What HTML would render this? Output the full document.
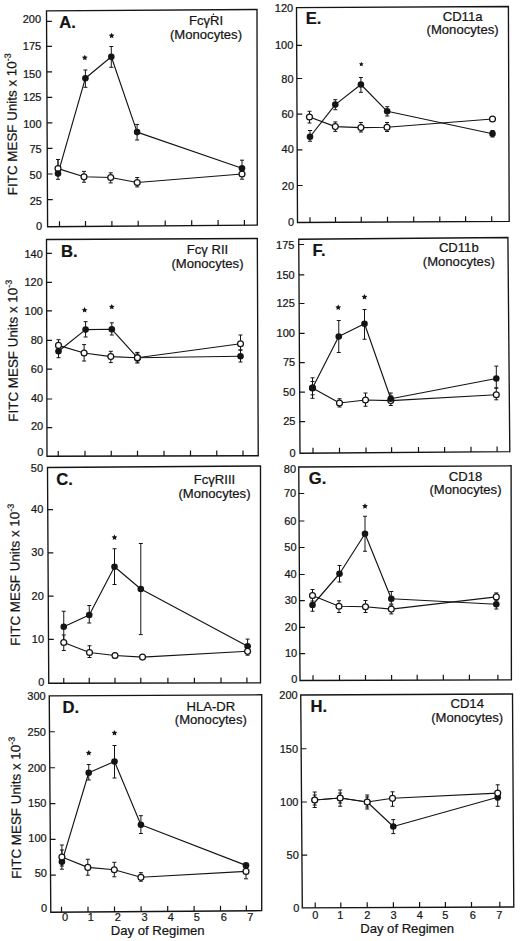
<!DOCTYPE html>
<html><head><meta charset="utf-8"><title>Figure</title>
<style>
html,body{margin:0;padding:0;background:#fff;}
body{width:520px;height:941px;overflow:hidden;}
svg{display:block;}
text{font-family:"Liberation Sans", sans-serif;fill:#141414;stroke:#141414;stroke-width:0.22px;}
.t{font-size:11px;}
.m{font-size:13.1px;}
.y{font-size:13.4px;}
.L{font-size:16.6px;font-weight:bold;}
.sup{font-size:9px;}
</style></head><body>
<svg width="520" height="941" viewBox="0 0 520 941">
<rect width="520" height="941" fill="#fff"/>
<g><polygon points="46.5,10.8 257,9.5 257.3,225.1 47.6,226.7" fill="none" stroke="#141414" stroke-width="1.35"/>
<path d="M46.55 21.4h5.3M46.68 46.3h5.3M46.81 71.8h5.3M46.94 97.4h5.3M47.07 122.8h5.3M47.2 148.3h5.3M47.33 174h5.3M47.46 199.7h5.3M59.5 226.61V221.31M85.5 226.41V221.11M111.9 226.21V220.91M138.2 226.01V220.71M165.2 225.8V220.5M191.7 225.6V220.3M218.1 225.4V220.1M244.4 225.2V219.9" stroke="#141414" stroke-width="1.2" fill="none"/>
<text x="41" y="22.8" text-anchor="end" class="t">200</text>
<text x="41.13" y="50.4" text-anchor="end" class="t">175</text>
<text x="41.26" y="78" text-anchor="end" class="t">150</text>
<text x="41.39" y="101.4" text-anchor="end" class="t">125</text>
<text x="41.52" y="128.4" text-anchor="end" class="t">100</text>
<text x="41.65" y="153.4" text-anchor="end" class="t">75</text>
<text x="41.78" y="179" text-anchor="end" class="t">50</text>
<text x="41.91" y="205.2" text-anchor="end" class="t">25</text>
<text x="42.04" y="229.9" text-anchor="end" class="t">0</text>
<text transform="translate(16.7 124.2) rotate(-90.4)" text-anchor="middle" class="y">FITC MESF Units x 10<tspan class="sup" dy="-5.5">-3</tspan></text>
<text x="59.3" y="27.9" class="L">A.</text>
<text x="206" y="25.4" text-anchor="middle" class="m">FcγRI</text>
<text x="206" y="39.2" text-anchor="middle" class="m">(Monocytes)</text>
<polyline points="58,173.6 85.4,78.2 111.3,56.8 137.1,132.1 242,168.2" fill="none" stroke="#141414" stroke-width="1.15" stroke-linejoin="round"/>
<polyline points="58,168.6 84,176.8 110.7,177.5 137.2,182.5 242,174" fill="none" stroke="#141414" stroke-width="1.15" stroke-linejoin="round"/>
<path d="M58 159.5V179.3M56 159.5h4M56 179.3h4M85.4 70V87.3M83.4 70h4M83.4 87.3h4M111.3 46.5V67.3M109.3 46.5h4M109.3 67.3h4M137.1 124.4V140M135.1 124.4h4M135.1 140h4M242 160.2V172M240 160.2h4M240 172h4M58 159.5V172M56 159.5h4M56 172h4M84 171.4V182.2M82 171.4h4M82 182.2h4M110.7 172.8V182.9M108.7 172.8h4M108.7 182.9h4M137.2 177.5V186.9M135.2 177.5h4M135.2 186.9h4M242 170V179.2M240 170h4M240 179.2h4" stroke="#141414" stroke-width="1.0" fill="none"/>
<circle cx="58" cy="168.6" r="2.95" fill="#fff" stroke="#141414" stroke-width="1.25"/>
<circle cx="84" cy="176.8" r="2.95" fill="#fff" stroke="#141414" stroke-width="1.25"/>
<circle cx="110.7" cy="177.5" r="2.95" fill="#fff" stroke="#141414" stroke-width="1.25"/>
<circle cx="137.2" cy="182.5" r="2.95" fill="#fff" stroke="#141414" stroke-width="1.25"/>
<circle cx="242" cy="174" r="2.95" fill="#fff" stroke="#141414" stroke-width="1.25"/>
<circle cx="58" cy="173.6" r="3.3" fill="#141414"/>
<circle cx="85.4" cy="78.2" r="3.3" fill="#141414"/>
<circle cx="111.3" cy="56.8" r="3.3" fill="#141414"/>
<circle cx="137.1" cy="132.1" r="3.3" fill="#141414"/>
<circle cx="242" cy="168.2" r="3.3" fill="#141414"/>
<circle cx="213.4" cy="14.2" r="0.8" fill="#141414"/>
<polygon points="84.8,54.8 85.68,56.59 87.65,56.87 86.23,58.26 86.56,60.23 84.8,59.3 83.04,60.23 83.37,58.26 81.95,56.87 83.92,56.59" fill="#141414"/>
<polygon points="111.6,32.8 112.48,34.59 114.45,34.87 113.03,36.26 113.36,38.23 111.6,37.3 109.84,38.23 110.17,36.26 108.75,34.87 110.72,34.59" fill="#141414"/></g>
<g><polygon points="46.5,239.5 257.3,238.5 258.25,455.75 47,456.25" fill="none" stroke="#141414" stroke-width="1.35"/>
<path d="M46.53 253.3h5.3M46.6 282.4h5.3M46.66 310.9h5.3M46.73 340.3h5.3M46.8 369.2h5.3M46.87 399h5.3M46.93 427.6h5.3M58.25 456.22V450.92M85 456.16V450.86M111.25 456.1V450.8M137.5 456.04V450.74M164 455.97V450.67M190.5 455.91V450.61M216.75 455.85V450.55M243 455.79V450.49" stroke="#141414" stroke-width="1.2" fill="none"/>
<text x="42.8" y="257.65" text-anchor="end" class="t">140</text>
<text x="42.87" y="286.3" text-anchor="end" class="t">120</text>
<text x="42.93" y="314.7" text-anchor="end" class="t">100</text>
<text x="43" y="344.4" text-anchor="end" class="t">80</text>
<text x="43.07" y="372.6" text-anchor="end" class="t">60</text>
<text x="43.14" y="401.6" text-anchor="end" class="t">40</text>
<text x="43.2" y="429.9" text-anchor="end" class="t">20</text>
<text x="43.27" y="456.2" text-anchor="end" class="t">0</text>
<text transform="translate(17.6 350.7) rotate(-90.4)" text-anchor="middle" class="y">FITC MESF Units x 10<tspan class="sup" dy="-5.5">-3</tspan></text>
<text x="61" y="256.5" class="L">B.</text>
<text x="207.5" y="253.7" text-anchor="middle" class="m">Fcγ RII</text>
<text x="207.5" y="267.5" text-anchor="middle" class="m">(Monocytes)</text>
<polyline points="58.5,351.3 85.6,329.6 111.8,329.3 137.4,357.7 240.5,356.25" fill="none" stroke="#141414" stroke-width="1.15" stroke-linejoin="round"/>
<polyline points="58.5,345.4 84.1,353 110.8,356.6 137.4,357.7 240.5,343.75" fill="none" stroke="#141414" stroke-width="1.15" stroke-linejoin="round"/>
<path d="M58.5 345V357.7M56.5 345h4M56.5 357.7h4M85.6 321.7V337M83.6 321.7h4M83.6 337h4M111.8 322.8V335M109.8 322.8h4M109.8 335h4M137.4 353V362M135.4 353h4M135.4 362h4M240.5 350V362M238.5 350h4M238.5 362h4M58.5 339.7V351M56.5 339.7h4M56.5 351h4M84.1 344.6V361M82.1 344.6h4M82.1 361h4M110.8 351.3V362.6M108.8 351.3h4M108.8 362.6h4M137.4 352.4V363M135.4 352.4h4M135.4 363h4M240.5 335V350M238.5 335h4M238.5 350h4" stroke="#141414" stroke-width="1.0" fill="none"/>
<circle cx="58.5" cy="345.4" r="2.95" fill="#fff" stroke="#141414" stroke-width="1.25"/>
<circle cx="84.1" cy="353" r="2.95" fill="#fff" stroke="#141414" stroke-width="1.25"/>
<circle cx="110.8" cy="356.6" r="2.95" fill="#fff" stroke="#141414" stroke-width="1.25"/>
<circle cx="137.4" cy="357.7" r="2.95" fill="#fff" stroke="#141414" stroke-width="1.25"/>
<circle cx="240.5" cy="343.75" r="2.95" fill="#fff" stroke="#141414" stroke-width="1.25"/>
<circle cx="58.5" cy="351.3" r="3.3" fill="#141414"/>
<circle cx="85.6" cy="329.6" r="3.3" fill="#141414"/>
<circle cx="111.8" cy="329.3" r="3.3" fill="#141414"/>
<circle cx="137.4" cy="357.7" r="3.3" fill="#141414"/>
<circle cx="240.5" cy="356.25" r="3.3" fill="#141414"/>
<circle cx="137.4" cy="357.7" r="2.95" fill="#fff" stroke="#141414" stroke-width="1.25"/>
<polygon points="84.6,307.1 85.48,308.89 87.45,309.17 86.03,310.56 86.36,312.53 84.6,311.6 82.84,312.53 83.17,310.56 81.75,309.17 83.72,308.89" fill="#141414"/>
<polygon points="111.8,303.9 112.68,305.69 114.65,305.97 113.23,307.36 113.56,309.33 111.8,308.4 110.04,309.33 110.37,307.36 108.95,305.97 110.92,305.69" fill="#141414"/></g>
<g><polygon points="47.5,467.5 260.5,466 260.5,682.8 48.75,683.25" fill="none" stroke="#141414" stroke-width="1.35"/>
<path d="M47.74 509.6h5.3M47.99 552.8h5.3M48.25 596.2h5.3M48.5 639.4h5.3M63.75 683.22V677.92M89.25 683.16V677.86M115 683.11V677.81M140.8 683.05V677.75M167.9 683V677.7M194.4 682.94V677.64M221 682.88V677.58M246.9 682.83V677.53" stroke="#141414" stroke-width="1.2" fill="none"/>
<text x="43.1" y="472.3" text-anchor="end" class="t">50</text>
<text x="43.34" y="512.7" text-anchor="end" class="t">40</text>
<text x="43.59" y="555.9" text-anchor="end" class="t">30</text>
<text x="43.85" y="599.5" text-anchor="end" class="t">20</text>
<text x="44.1" y="642.6" text-anchor="end" class="t">10</text>
<text x="44.35" y="686.3" text-anchor="end" class="t">0</text>
<text transform="translate(19.6 574.7) rotate(-90.4)" text-anchor="middle" class="y">FITC MESF Units x 10<tspan class="sup" dy="-5.5">-3</tspan></text>
<text x="56.2" y="484.6" class="L">C.</text>
<text x="214.5" y="484" text-anchor="middle" class="m">FcγRIII</text>
<text x="214.5" y="497.5" text-anchor="middle" class="m">(Monocytes)</text>
<polyline points="63.75,626.75 89.25,615 114.5,566.75 140.8,589 247.6,646.3" fill="none" stroke="#141414" stroke-width="1.15" stroke-linejoin="round"/>
<polyline points="63.75,642.5 89.5,652.5 115,655.5 142.5,657.1 247.6,651.3" fill="none" stroke="#141414" stroke-width="1.15" stroke-linejoin="round"/>
<path d="M63.75 611.25V642M61.75 611.25h4M61.75 642h4M89.25 605.5V623M87.25 605.5h4M87.25 623h4M114.5 548.75V584.5M112.5 548.75h4M112.5 584.5h4M140.8 543.5V634.6M138.8 543.5h4M138.8 634.6h4M247.6 639.1V646.3M245.6 639.1h4M245.6 646.3h4M63.75 635V650.5M61.75 635h4M61.75 650.5h4M89.5 645.75V657.5M87.5 645.75h4M87.5 657.5h4M115 653V658M113 653h4M113 658h4M142.5 655V659M140.5 655h4M140.5 659h4M247.6 651.3V655.2M245.6 651.3h4M245.6 655.2h4" stroke="#141414" stroke-width="1.0" fill="none"/>
<circle cx="63.75" cy="626.75" r="3.3" fill="#141414"/>
<circle cx="89.25" cy="615" r="3.3" fill="#141414"/>
<circle cx="114.5" cy="566.75" r="3.3" fill="#141414"/>
<circle cx="140.8" cy="589" r="3.3" fill="#141414"/>
<circle cx="247.6" cy="646.3" r="3.3" fill="#141414"/>
<circle cx="63.75" cy="642.5" r="2.95" fill="#fff" stroke="#141414" stroke-width="1.25"/>
<circle cx="89.5" cy="652.5" r="2.95" fill="#fff" stroke="#141414" stroke-width="1.25"/>
<circle cx="115" cy="655.5" r="2.95" fill="#fff" stroke="#141414" stroke-width="1.25"/>
<circle cx="142.5" cy="657.1" r="2.95" fill="#fff" stroke="#141414" stroke-width="1.25"/>
<circle cx="247.6" cy="651.3" r="2.95" fill="#fff" stroke="#141414" stroke-width="1.25"/>
<polygon points="114.5,534.5 115.38,536.29 117.35,536.57 115.93,537.96 116.26,539.93 114.5,539 112.74,539.93 113.07,537.96 111.65,536.57 113.62,536.29" fill="#141414"/></g>
<g><polygon points="49.25,695.8 261.7,694.8 261.7,910.7 50.8,912.2" fill="none" stroke="#141414" stroke-width="1.35"/>
<path d="M49.51 731.75h5.3M49.77 767.75h5.3M50.02 803.6h5.3M50.28 839.3h5.3M50.53 875.2h5.3M61.5 912.12V906.82M88 911.94V906.64M114.5 911.75V906.45M141.1 911.56V906.26M167.7 911.37V906.07M194.1 911.18V905.88M220.5 910.99V905.69M246.3 910.81V905.51" stroke="#141414" stroke-width="1.2" fill="none"/>
<text x="45.7" y="700.4" text-anchor="end" class="t">300</text>
<text x="45.96" y="736.3" text-anchor="end" class="t">250</text>
<text x="46.22" y="771.9" text-anchor="end" class="t">200</text>
<text x="46.47" y="807" text-anchor="end" class="t">150</text>
<text x="46.73" y="842.1" text-anchor="end" class="t">100</text>
<text x="46.98" y="877.2" text-anchor="end" class="t">50</text>
<text x="47.24" y="912.3" text-anchor="end" class="t">0</text>
<text x="65" y="921" text-anchor="middle" class="t">0</text>
<text x="90.75" y="921" text-anchor="middle" class="t">1</text>
<text x="117.75" y="921" text-anchor="middle" class="t">2</text>
<text x="144.6" y="921" text-anchor="middle" class="t">3</text>
<text x="170.9" y="921" text-anchor="middle" class="t">4</text>
<text x="196.8" y="921" text-anchor="middle" class="t">5</text>
<text x="223.7" y="921" text-anchor="middle" class="t">6</text>
<text x="250.4" y="921" text-anchor="middle" class="t">7</text>
<text x="110.75" y="934.5" class="m">Day of Regimen</text>
<text transform="translate(20.7 807.7) rotate(-90.4)" text-anchor="middle" class="y">FITC MESF Units x 10<tspan class="sup" dy="-5.5">-3</tspan></text>
<text x="62.5" y="713.4" class="L">D.</text>
<text x="210.8" y="710.7" text-anchor="middle" class="m">HLA-DR</text>
<text x="210.8" y="724.2" text-anchor="middle" class="m">(Monocytes)</text>
<polyline points="61.9,861.8 88.75,772.75 114.5,761.5 140.9,824.7 246,865.4" fill="none" stroke="#141414" stroke-width="1.15" stroke-linejoin="round"/>
<polyline points="61.9,857 87.8,867.4 114.3,869.7 140.9,877.3 246,871.4" fill="none" stroke="#141414" stroke-width="1.15" stroke-linejoin="round"/>
<path d="M61.9 850V869.2M59.9 850h4M59.9 869.2h4M88.75 764.5V780M86.75 764.5h4M86.75 780h4M114.5 745.5V778M112.5 745.5h4M112.5 778h4M140.9 815.7V833.5M138.9 815.7h4M138.9 833.5h4M61.9 845V866M59.9 845h4M59.9 866h4M87.8 859.3V875.2M85.8 859.3h4M85.8 875.2h4M114.3 862.3V876.8M112.3 862.3h4M112.3 876.8h4M140.9 872.7V881.2M138.9 872.7h4M138.9 881.2h4M246 871.4V878.8M244 871.4h4M244 878.8h4" stroke="#141414" stroke-width="1.0" fill="none"/>
<circle cx="61.9" cy="861.8" r="3.3" fill="#141414"/>
<circle cx="88.75" cy="772.75" r="3.3" fill="#141414"/>
<circle cx="114.5" cy="761.5" r="3.3" fill="#141414"/>
<circle cx="140.9" cy="824.7" r="3.3" fill="#141414"/>
<circle cx="246" cy="865.4" r="3.3" fill="#141414"/>
<circle cx="61.9" cy="857" r="2.95" fill="#fff" stroke="#141414" stroke-width="1.25"/>
<circle cx="87.8" cy="867.4" r="2.95" fill="#fff" stroke="#141414" stroke-width="1.25"/>
<circle cx="114.3" cy="869.7" r="2.95" fill="#fff" stroke="#141414" stroke-width="1.25"/>
<circle cx="140.9" cy="877.3" r="2.95" fill="#fff" stroke="#141414" stroke-width="1.25"/>
<circle cx="246" cy="871.4" r="2.95" fill="#fff" stroke="#141414" stroke-width="1.25"/>
<polygon points="88.75,750 89.63,751.79 91.6,752.07 90.18,753.46 90.51,755.43 88.75,754.5 86.99,755.43 87.32,753.46 85.9,752.07 87.87,751.79" fill="#141414"/>
<polygon points="114.5,730 115.38,731.79 117.35,732.07 115.93,733.46 116.26,735.43 114.5,734.5 112.74,735.43 113.07,733.46 111.65,732.07 113.62,731.79" fill="#141414"/></g>
<g><polygon points="296.5,7.7 508.4,6.5 509.2,221.4 297.5,222.5" fill="none" stroke="#141414" stroke-width="1.35"/>
<path d="M296.68 45.3h5.3M296.83 78.5h5.3M297 114.2h5.3M297.16 149.8h5.3M297.33 185.5h5.3M310 222.44V217.14M335.5 222.3V217M361.25 222.17V216.87M387.5 222.03V216.73M413.7 221.9V216.6M439.8 221.76V216.46M465.6 221.63V216.33M491.7 221.49V216.19" stroke="#141414" stroke-width="1.2" fill="none"/>
<text x="293.2" y="12.4" text-anchor="end" class="t">120</text>
<text x="293.37" y="49.2" text-anchor="end" class="t">100</text>
<text x="293.53" y="83.1" text-anchor="end" class="t">80</text>
<text x="293.69" y="118" text-anchor="end" class="t">60</text>
<text x="293.86" y="153.3" text-anchor="end" class="t">40</text>
<text x="294.03" y="189.5" text-anchor="end" class="t">20</text>
<text x="294.2" y="226" text-anchor="end" class="t">0</text>
<text x="305.7" y="24" class="L">E.</text>
<text x="462.6" y="20.6" text-anchor="middle" class="m">CD11a</text>
<text x="462.6" y="34.3" text-anchor="middle" class="m">(Monocytes)</text>
<polyline points="310,136.75 335.3,104.6 360.9,84.5 387.2,111.3 492.5,133.8" fill="none" stroke="#141414" stroke-width="1.15" stroke-linejoin="round"/>
<polyline points="309.5,117 335.3,126.6 360.9,127.6 387,127.2 492.5,119" fill="none" stroke="#141414" stroke-width="1.15" stroke-linejoin="round"/>
<path d="M310 130.5V141.25M308 130.5h4M308 141.25h4M335.3 99.7V109.7M333.3 99.7h4M333.3 109.7h4M360.9 77.5V92.3M358.9 77.5h4M358.9 92.3h4M387.2 106.7V116M385.2 106.7h4M385.2 116h4M492.5 130.5V137M490.5 130.5h4M490.5 137h4M309.5 111.25V123M307.5 111.25h4M307.5 123h4M335.3 121.9V131.4M333.3 121.9h4M333.3 131.4h4M360.9 122.5V132M358.9 122.5h4M358.9 132h4M387 122.5V131.5M385 122.5h4M385 131.5h4" stroke="#141414" stroke-width="1.0" fill="none"/>
<circle cx="309.5" cy="117" r="2.95" fill="#fff" stroke="#141414" stroke-width="1.25"/>
<circle cx="335.3" cy="126.6" r="2.95" fill="#fff" stroke="#141414" stroke-width="1.25"/>
<circle cx="360.9" cy="127.6" r="2.95" fill="#fff" stroke="#141414" stroke-width="1.25"/>
<circle cx="387" cy="127.2" r="2.95" fill="#fff" stroke="#141414" stroke-width="1.25"/>
<circle cx="492.5" cy="119" r="2.95" fill="#fff" stroke="#141414" stroke-width="1.25"/>
<circle cx="310" cy="136.75" r="3.3" fill="#141414"/>
<circle cx="335.3" cy="104.6" r="3.3" fill="#141414"/>
<circle cx="360.9" cy="84.5" r="3.3" fill="#141414"/>
<circle cx="387.2" cy="111.3" r="3.3" fill="#141414"/>
<circle cx="492.5" cy="133.8" r="3.3" fill="#141414"/>
<polygon points="361.3,61.7 362.03,63.19 363.68,63.43 362.49,64.59 362.77,66.22 361.3,65.45 359.83,66.22 360.11,64.59 358.92,63.43 360.57,63.19" fill="#141414"/></g>
<g><polygon points="298.75,239.25 507.9,237.5 509.8,451.7 300,453.25" fill="none" stroke="#141414" stroke-width="1.35"/>
<path d="M298.78 244.5h5.3M298.96 274.8h5.3M299.13 303.5h5.3M299.3 333.3h5.3M299.47 362.6h5.3M299.64 392.2h5.3M299.82 421.7h5.3M313 453.15V447.85M339.5 452.96V447.66M366 452.76V447.46M391.6 452.57V447.27M418.5 452.37V447.07M444.6 452.18V446.88M471 451.99V446.69M497.1 451.79V446.49" stroke="#141414" stroke-width="1.2" fill="none"/>
<text x="294.45" y="249" text-anchor="end" class="t">175</text>
<text x="294.63" y="279.3" text-anchor="end" class="t">150</text>
<text x="294.79" y="307" text-anchor="end" class="t">125</text>
<text x="294.97" y="336.8" text-anchor="end" class="t">100</text>
<text x="295.14" y="366" text-anchor="end" class="t">75</text>
<text x="295.31" y="395.5" text-anchor="end" class="t">50</text>
<text x="295.49" y="424.6" text-anchor="end" class="t">25</text>
<text x="295.66" y="457" text-anchor="end" class="t">0</text>
<text x="312.6" y="255.7" class="L">F.</text>
<text x="458.8" y="252" text-anchor="middle" class="m">CD11b</text>
<text x="458.8" y="265.5" text-anchor="middle" class="m">(Monocytes)</text>
<polyline points="312.5,387.9 338.75,336.5 364.5,323.75 390.8,398.7 496.3,378.5" fill="none" stroke="#141414" stroke-width="1.15" stroke-linejoin="round"/>
<polyline points="312.5,388 339.5,403 365.5,400 390.8,400.6 496.3,394.7" fill="none" stroke="#141414" stroke-width="1.15" stroke-linejoin="round"/>
<path d="M312.5 377.8V398.3M310.5 377.8h4M310.5 398.3h4M338.75 320.5V352.5M336.75 320.5h4M336.75 352.5h4M364.5 309.5V339.25M362.5 309.5h4M362.5 339.25h4M390.8 393V402M388.8 393h4M388.8 402h4M496.3 366.1V388M494.3 366.1h4M494.3 388h4M312.5 381.5V394.8M310.5 381.5h4M310.5 394.8h4M339.5 398.75V407M337.5 398.75h4M337.5 407h4M365.5 393V406.25M363.5 393h4M363.5 406.25h4M390.8 396V405.5M388.8 396h4M388.8 405.5h4M496.3 388V399.8M494.3 388h4M494.3 399.8h4" stroke="#141414" stroke-width="1.0" fill="none"/>
<circle cx="312.5" cy="388" r="2.95" fill="#fff" stroke="#141414" stroke-width="1.25"/>
<circle cx="339.5" cy="403" r="2.95" fill="#fff" stroke="#141414" stroke-width="1.25"/>
<circle cx="365.5" cy="400" r="2.95" fill="#fff" stroke="#141414" stroke-width="1.25"/>
<circle cx="390.8" cy="400.6" r="2.95" fill="#fff" stroke="#141414" stroke-width="1.25"/>
<circle cx="496.3" cy="394.7" r="2.95" fill="#fff" stroke="#141414" stroke-width="1.25"/>
<circle cx="312.5" cy="387.9" r="3.3" fill="#141414"/>
<circle cx="338.75" cy="336.5" r="3.3" fill="#141414"/>
<circle cx="364.5" cy="323.75" r="3.3" fill="#141414"/>
<circle cx="390.8" cy="398.7" r="3.3" fill="#141414"/>
<circle cx="496.3" cy="378.5" r="3.3" fill="#141414"/>
<polygon points="338.25,304.5 339.13,306.29 341.1,306.57 339.68,307.96 340.01,309.93 338.25,309 336.49,309.93 336.82,307.96 335.4,306.57 337.37,306.29" fill="#141414"/>
<polygon points="364.5,294 365.38,295.79 367.35,296.07 365.93,297.46 366.26,299.43 364.5,298.5 362.74,299.43 363.07,297.46 361.65,296.07 363.62,295.79" fill="#141414"/></g>
<g><polygon points="298.75,467 511.1,465.8 511.4,679.9 300,680.5" fill="none" stroke="#141414" stroke-width="1.35"/>
<path d="M298.91 493.5h5.3M299.07 521h5.3M299.22 547.5h5.3M299.38 574.5h5.3M299.53 600.6h5.3M299.69 627.4h5.3M299.84 653.6h5.3M313 680.46V675.16M339.5 680.39V675.09M365.5 680.31V675.01M391.6 680.24V674.94M417.2 680.17V674.87M443.3 680.09V674.79M469.4 680.02V674.72M497.9 679.94V674.64" stroke="#141414" stroke-width="1.2" fill="none"/>
<text x="296.1" y="472.6" text-anchor="end" class="t">80</text>
<text x="296.26" y="497" text-anchor="end" class="t">70</text>
<text x="296.42" y="525" text-anchor="end" class="t">60</text>
<text x="296.57" y="551.3" text-anchor="end" class="t">50</text>
<text x="296.73" y="578" text-anchor="end" class="t">40</text>
<text x="296.88" y="603.6" text-anchor="end" class="t">30</text>
<text x="297.04" y="631.3" text-anchor="end" class="t">20</text>
<text x="297.19" y="657" text-anchor="end" class="t">10</text>
<text x="297.35" y="682.9" text-anchor="end" class="t">0</text>
<text x="308.75" y="483.6" class="L">G.</text>
<text x="465.5" y="480.6" text-anchor="middle" class="m">CD18</text>
<text x="465.5" y="494" text-anchor="middle" class="m">(Monocytes)</text>
<polyline points="312.5,605 339.5,573.75 365,533.75 391.3,598.75 496.3,604.2" fill="none" stroke="#141414" stroke-width="1.15" stroke-linejoin="round"/>
<polyline points="312.5,595.5 339,606.25 365.5,606.75 391.3,609.1 496.3,596.9" fill="none" stroke="#141414" stroke-width="1.15" stroke-linejoin="round"/>
<path d="M312.5 598V611.25M310.5 598h4M310.5 611.25h4M339.5 565.5V582M337.5 565.5h4M337.5 582h4M365 516.25V551.25M363 516.25h4M363 551.25h4M391.3 591.5V604M389.3 591.5h4M389.3 604h4M496.3 600V609M494.3 600h4M494.3 609h4M312.5 589.5V601M310.5 589.5h4M310.5 601h4M339 600.75V612.5M337 600.75h4M337 612.5h4M365.5 600.5V612.5M363.5 600.5h4M363.5 612.5h4M391.3 605V613.9M389.3 605h4M389.3 613.9h4M496.3 592.9V600M494.3 592.9h4M494.3 600h4" stroke="#141414" stroke-width="1.0" fill="none"/>
<circle cx="312.5" cy="595.5" r="2.95" fill="#fff" stroke="#141414" stroke-width="1.25"/>
<circle cx="339" cy="606.25" r="2.95" fill="#fff" stroke="#141414" stroke-width="1.25"/>
<circle cx="365.5" cy="606.75" r="2.95" fill="#fff" stroke="#141414" stroke-width="1.25"/>
<circle cx="391.3" cy="609.1" r="2.95" fill="#fff" stroke="#141414" stroke-width="1.25"/>
<circle cx="496.3" cy="596.9" r="2.95" fill="#fff" stroke="#141414" stroke-width="1.25"/>
<circle cx="312.5" cy="605" r="3.3" fill="#141414"/>
<circle cx="339.5" cy="573.75" r="3.3" fill="#141414"/>
<circle cx="365" cy="533.75" r="3.3" fill="#141414"/>
<circle cx="391.3" cy="598.75" r="3.3" fill="#141414"/>
<circle cx="496.3" cy="604.2" r="3.3" fill="#141414"/>
<polygon points="365,503.25 365.88,505.04 367.85,505.32 366.43,506.71 366.76,508.68 365,507.75 363.24,508.68 363.57,506.71 362.15,505.32 364.12,505.04" fill="#141414"/></g>
<g><polygon points="300.75,695 512.5,694 513.8,907 302.3,907.9" fill="none" stroke="#141414" stroke-width="1.35"/>
<path d="M301.14 748.75h5.3M301.53 802h5.3M301.92 855.2h5.3M315.2 907.85V902.55M340.8 907.74V902.44M367.2 907.62V902.32M393.4 907.51V902.21M419.6 907.4V902.1M445.4 907.29V901.99M471.5 907.18V901.88M499.8 907.06V901.76" stroke="#141414" stroke-width="1.2" fill="none"/>
<text x="297.7" y="699.2" text-anchor="end" class="t">200</text>
<text x="298.09" y="752.75" text-anchor="end" class="t">150</text>
<text x="298.48" y="806" text-anchor="end" class="t">100</text>
<text x="298.86" y="859.2" text-anchor="end" class="t">50</text>
<text x="299.25" y="911.5" text-anchor="end" class="t">0</text>
<text x="315.2" y="919.3" text-anchor="middle" class="t">0</text>
<text x="340.2" y="919.3" text-anchor="middle" class="t">1</text>
<text x="367.2" y="919.3" text-anchor="middle" class="t">2</text>
<text x="393.6" y="919.3" text-anchor="middle" class="t">3</text>
<text x="419.8" y="919.3" text-anchor="middle" class="t">4</text>
<text x="445.4" y="919.3" text-anchor="middle" class="t">5</text>
<text x="472.9" y="919.3" text-anchor="middle" class="t">6</text>
<text x="499.3" y="919.3" text-anchor="middle" class="t">7</text>
<text x="360.2" y="933" class="m">Day of Regimen</text>
<text x="310.5" y="712.2" class="L">H.</text>
<text x="467.2" y="708.3" text-anchor="middle" class="m">CD14</text>
<text x="467.2" y="722" text-anchor="middle" class="m">(Monocytes)</text>
<polyline points="314.7,800 340.2,798 367.2,802 393.3,826.5 497.7,797.2" fill="none" stroke="#141414" stroke-width="1.15" stroke-linejoin="round"/>
<polyline points="314.7,800 340.2,798 367.2,802 392.5,798.3 497.7,793.1" fill="none" stroke="#141414" stroke-width="1.15" stroke-linejoin="round"/>
<path d="M314.7 795V805M312.7 795h4M312.7 805h4M340.2 793V803M338.2 793h4M338.2 803h4M367.2 797V807M365.2 797h4M365.2 807h4M393.3 819.6V833.6M391.3 819.6h4M391.3 833.6h4M497.7 792V806.3M495.7 792h4M495.7 806.3h4M314.7 792V807.5M312.7 792h4M312.7 807.5h4M340.2 790V806.25M338.2 790h4M338.2 806.25h4M367.2 795V809M365.2 795h4M365.2 809h4M392.5 791.8V806.3M390.5 791.8h4M390.5 806.3h4M497.7 784.8V800M495.7 784.8h4M495.7 800h4" stroke="#141414" stroke-width="1.0" fill="none"/>
<circle cx="314.7" cy="800" r="3.3" fill="#141414"/>
<circle cx="340.2" cy="798" r="3.3" fill="#141414"/>
<circle cx="367.2" cy="802" r="3.3" fill="#141414"/>
<circle cx="393.3" cy="826.5" r="3.3" fill="#141414"/>
<circle cx="497.7" cy="797.2" r="3.3" fill="#141414"/>
<circle cx="314.7" cy="800" r="2.95" fill="#fff" stroke="#141414" stroke-width="1.25"/>
<circle cx="340.2" cy="798" r="2.95" fill="#fff" stroke="#141414" stroke-width="1.25"/>
<circle cx="367.2" cy="802" r="2.95" fill="#fff" stroke="#141414" stroke-width="1.25"/>
<circle cx="392.5" cy="798.3" r="2.95" fill="#fff" stroke="#141414" stroke-width="1.25"/>
<circle cx="497.7" cy="793.1" r="2.95" fill="#fff" stroke="#141414" stroke-width="1.25"/></g>
</svg>
</body></html>
